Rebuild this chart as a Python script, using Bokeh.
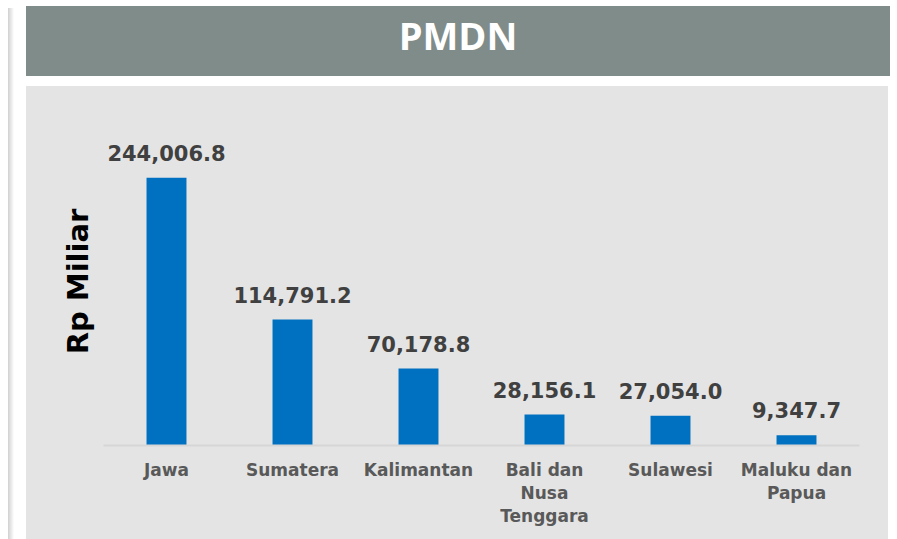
from bokeh.plotting import figure
from bokeh.models import ColumnDataSource, FactorRange, Range1d, LabelSet, Div, Spacer
from bokeh.layouts import row, column
from bokeh.core.properties import value
from bokeh.embed import file_html
from bokeh.resources import INLINE

# ---- data ----
categories = ["Jawa", "Sumatera", "Kalimantan", "Bali dan Nusa Tenggara", "Sulawesi", "Maluku dan Papua"]
tick_labels = ["Jawa", "Sumatera", "Kalimantan", "Bali dan\nNusa\nTenggara", "Sulawesi", "Maluku dan\nPapua"]
values = [244006.8, 114791.2, 70178.8, 28156.1, 27054.0, 9347.7]
value_labels = [f"{v:,.1f}" for v in values]
title_text = "PMDN"
y_title = "Rp Miliar"

BG = "#e4e4e4"
BANNER = "#7f8c8a"
BAR = "#0070c0"

# ---- banner ----
banner = Div(text=title_text, width=864, height=70, margin=0,
             styles={"background-color": BANNER, "color": "white",
                     "font-family": "'Open Sans'", "font-weight": "bold",
                     "font-size": "38px", "text-align": "center",
                     "line-height": "58px"})

# ---- main chart ----
source = ColumnDataSource(dict(cat=tick_labels, val=values, lbl=value_labels))

p = figure(width=862, height=453, x_range=FactorRange(*tick_labels, range_padding=0),
           y_range=Range1d(0, 299000), toolbar_location=None, output_backend="svg",
           min_border_left=77, min_border_right=29, min_border_top=31, min_border_bottom=94,
           styles={"background-color": BG})
p.background_fill_alpha = 0
p.border_fill_alpha = 0
p.outline_line_color = None
p.xgrid.visible = False
p.ygrid.visible = False

p.vbar(x="cat", top="val", width=0.317, source=source, fill_color=BAR, line_color=None)

p.add_layout(LabelSet(x="cat", y="val", text="lbl", source=source, y_offset=17,
                      text_align="center", text_baseline="alphabetic",
                      text_font=value("DejaVu Sans"), text_font_style="bold",
                      text_font_size="21px", text_color="#404040"))

xa = p.xaxis[0]
xa.axis_line_color = "#d6d6d6"
xa.axis_line_width = 2
xa.major_tick_line_color = None
xa.minor_tick_line_color = None
xa.major_tick_out = 0
xa.major_tick_in = 0
xa.major_label_standoff = 14
xa.major_label_text_font = "DejaVu Sans"
xa.major_label_text_font_style = "bold"
xa.major_label_text_font_size = "17px"
xa.major_label_text_color = "#595959"
xa.major_label_text_line_height = 1.17

ya = p.yaxis[0]
ya.ticker = []
ya.axis_line_color = None
ya.major_tick_line_color = None
ya.minor_tick_line_color = None
ya.major_tick_out = 0
ya.major_label_standoff = 0
ya.axis_label = y_title
ya.axis_label_standoff = 9
ya.axis_label_text_font = "DejaVu Sans"
ya.axis_label_text_font_style = "bold"
ya.axis_label_text_font_size = "29px"
ya.axis_label_text_color = "black"

# ---- left shadow line ----
shadow = Div(width=6, height=531, text="", margin=0,
             styles={"background": "linear-gradient(to right, #d0d0d0, #ffffff)"})

layout = row(Spacer(width=8), column(Spacer(height=8), shadow), Spacer(width=12),
             column(Spacer(height=6), banner, Spacer(height=10), p))

open("out.html", "w").write(file_html(layout, INLINE))
